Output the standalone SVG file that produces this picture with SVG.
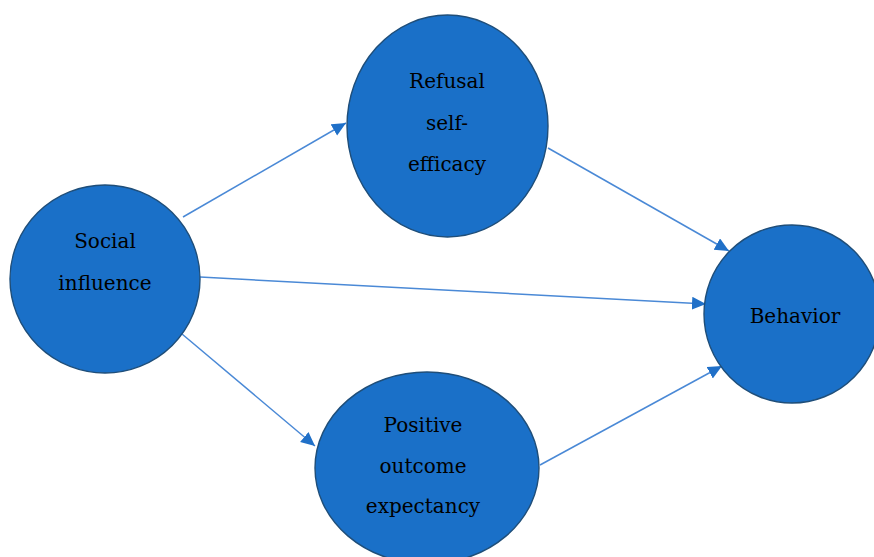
<svg xmlns="http://www.w3.org/2000/svg" width="874" height="557" viewBox="0 0 874 557">
  <style>
    .node { fill: #1a70c8; stroke: #1f4e79; stroke-width: 1.4; }
    .label { font-family: "DejaVu Serif", "Liberation Serif", serif; font-size: 20px; fill: #000; text-anchor: middle; }
    .edge { stroke: #4a89d6; stroke-width: 1.5; fill: none; marker-end: url(#arrow); }
  </style>
  <defs>
    <marker id="arrow" markerUnits="userSpaceOnUse" markerWidth="16" markerHeight="14" refX="14" refY="6.5" orient="auto">
      <path d="M0,0 L14,6.5 L0,13 Z" fill="#2070c8"/>
    </marker>
  </defs>
  <rect width="874" height="557" fill="#ffffff"/>

  <g id="connectors">
    <line class="edge" x1="183" y1="217" x2="346" y2="123"/>
    <line class="edge" x1="182" y1="334" x2="315" y2="446"/>
    <line class="edge" x1="548" y1="148" x2="729" y2="251"/>
    <line class="edge" x1="200" y1="277" x2="706" y2="304"/>
    <line class="edge" x1="540" y1="465" x2="722" y2="366"/>
  </g>

  <g id="social-influence">
    <ellipse class="node" cx="105" cy="279" rx="95" ry="94"/>
    <text class="label" x="105" y="248">Social</text>
    <text class="label" x="105" y="290">influence</text>
  </g>

  <g id="refusal-self-efficacy">
    <ellipse class="node" cx="447.5" cy="126" rx="100.5" ry="111"/>
    <text class="label" x="447" y="88">Refusal</text>
    <text class="label" x="447" y="130">self-</text>
    <text class="label" x="447" y="171">efficacy</text>
  </g>

  <g id="positive-outcome-expectancy">
    <ellipse class="node" cx="427" cy="468" rx="112" ry="96"/>
    <text class="label" x="423" y="432">Positive</text>
    <text class="label" x="423" y="473">outcome</text>
    <text class="label" x="423" y="513">expectancy</text>
  </g>

  <g id="behavior">
    <ellipse class="node" cx="792" cy="314" rx="88" ry="89"/>
    <text class="label" x="795" y="323">Behavior</text>
  </g>
</svg>
